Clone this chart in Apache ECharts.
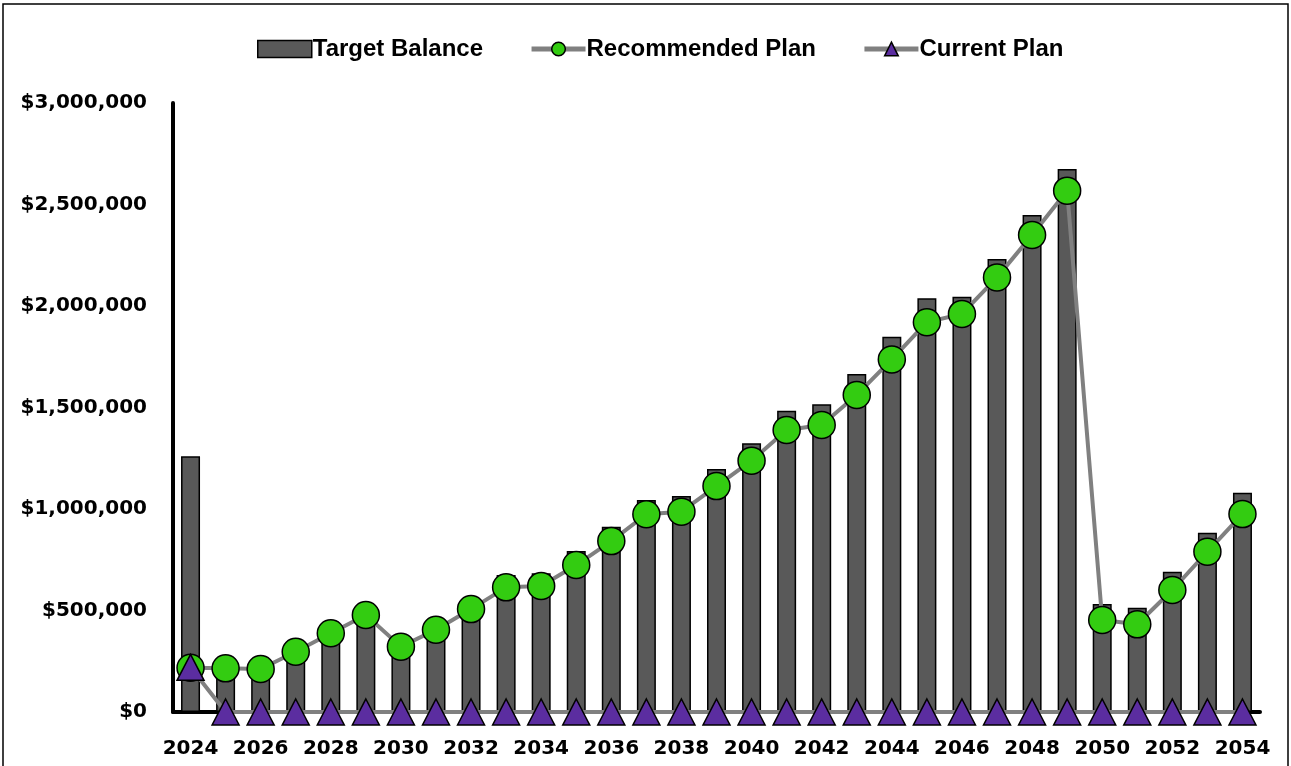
<!DOCTYPE html>
<html>
<head>
<meta charset="utf-8">
<script src="https://cdn.jsdelivr.net/npm/echarts@6/dist/echarts.min.js"></script>
<style>
html,body{margin:0;padding:0;background:#fff;}
#chart{width:1291px;height:766px;}
</style>
</head>
<body>
<div id="chart"></div>
<script>
const years = ["2024","2025","2026","2027","2028","2029","2030","2031","2032","2033","2034","2035","2036","2037","2038","2039","2040","2041","2042","2043","2044","2045","2046","2047","2048","2049","2050","2051","2052","2053","2054"];
const targetBalance = [1260000,190000,185000,270000,365000,460000,295000,385000,490000,675000,683000,793000,913000,1044000,1064000,1197000,1324000,1484000,1516000,1665000,1849000,2038000,2046000,2231000,2448000,2675000,532000,514000,691000,883000,1080000];
const recommendedPlan = [218000,215000,212000,297000,388000,478000,322000,405000,507000,614000,621000,724000,842000,974000,987000,1113000,1238000,1389000,1414000,1562000,1737000,1920000,1961000,2141000,2350000,2568000,453000,432000,601000,790000,975000];
const currentPlan = [220000,0,0,0,0,0,0,0,0,0,0,0,0,0,0,0,0,0,0,0,0,0,0,0,0,0,0,0,0,0,0];

const chart = echarts.init(document.getElementById('chart'), null, {renderer:'canvas'});
const fmt = v => '$' + v.toString().replace(/\B(?=(\d{3})+(?!\d))/g, ',');
const legendFont = {fontFamily:'Liberation Sans, Arial, sans-serif', fontWeight:'bold', fontSize:24, color:'#000'};
chart.setOption({
  animation:false,
  backgroundColor:'#fff',
  graphic:[{type:'rect', shape:{x:3,y:4,width:1285,height:800}, style:{fill:'none', stroke:'#000', lineWidth:1.5}, z:-1}],
  legend:{
    top:32, left:252, itemGap:46, itemWidth:54, itemHeight:17,
    textStyle:Object.assign({padding:[0,0,0,-4]}, legendFont),
    data:[
      {name:'Target Balance', icon:'rect', itemStyle:{color:'#595959', borderColor:'#000', borderWidth:1.5}},
      {name:'Recommended Plan', lineStyle:{color:'#808080', width:5}, itemStyle:{color:'#33CC11', borderColor:'#000', borderWidth:1.5}},
      {name:'Current Plan', lineStyle:{color:'#808080', width:5}, itemStyle:{color:'#5B2DA0', borderColor:'#000', borderWidth:1.5}}
    ]
  },
  grid:{left:173, right:31, top:103, bottom:54, containLabel:false},
  xAxis:{
    type:'category', data:years, boundaryGap:true,
    axisLine:{show:true, lineStyle:{color:'#000', width:4}},
    axisTick:{show:false},
    axisLabel:{interval:1, margin:27, color:'#000', fontFamily:'DejaVu Sans', fontWeight:'bold', fontSize:20}
  },
  yAxis:{
    type:'value', min:0, max:3000000, interval:500000,
    axisLine:{show:true, lineStyle:{color:'#000', width:4}},
    axisTick:{show:false},
    splitLine:{show:false},
    axisLabel:{margin:26, color:'#000', fontFamily:'DejaVu Sans', fontWeight:'bold', fontSize:20, formatter:fmt}
  },
  series:[
    {name:'Target Balance', type:'bar', data:targetBalance, barWidth:19,
     itemStyle:{color:'#595959', borderColor:'#000', borderWidth:1.5}, z:2},
    {name:'Recommended Plan', type:'line', data:recommendedPlan, symbol:'circle', symbolSize:27, showAllSymbol:true,
     lineStyle:{color:'#808080', width:4}, itemStyle:{color:'#33CC11', borderColor:'#000', borderWidth:1.5}, z:3},
    {name:'Current Plan', type:'line', data:currentPlan, symbol:'triangle', symbolSize:[27,26], showAllSymbol:true,
     lineStyle:{color:'#808080', width:4}, itemStyle:{color:'#5B2DA0', borderColor:'#000', borderWidth:1.5}, z:4}
  ]
});
</script>
</body>
</html>
